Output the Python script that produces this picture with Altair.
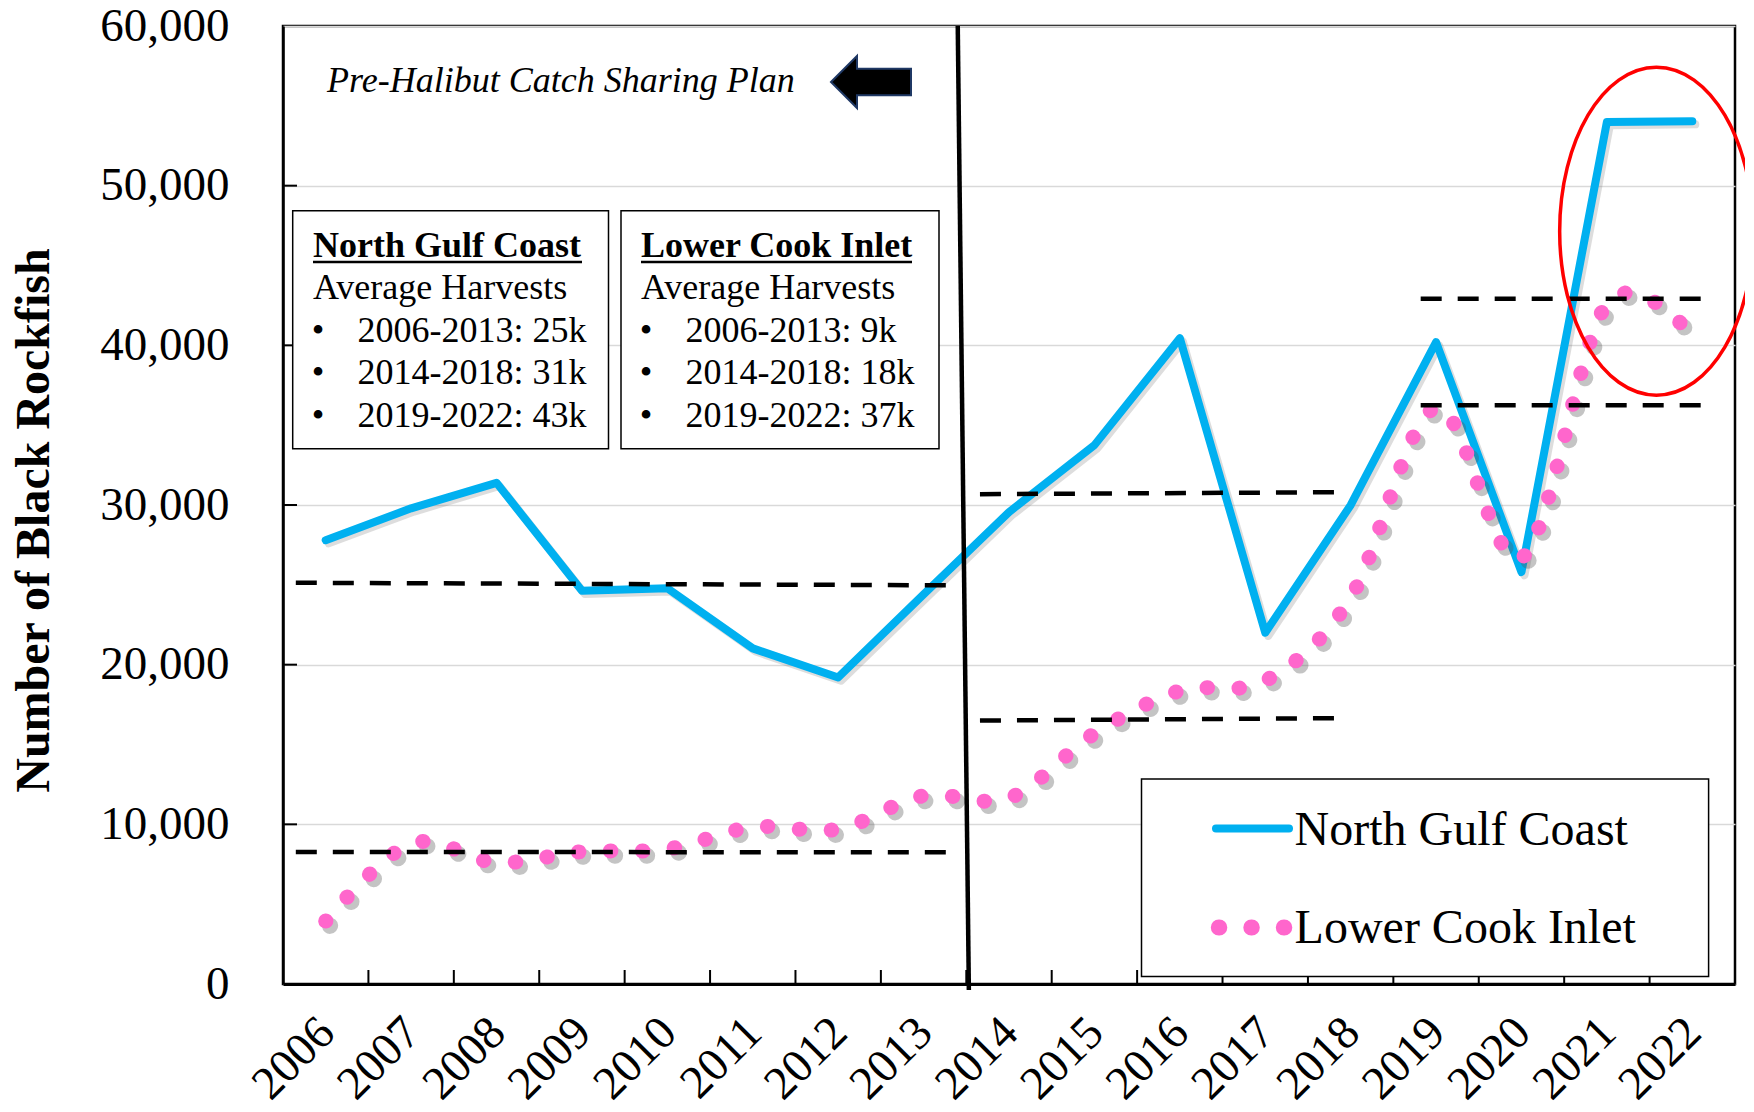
import altair as alt
import pandas as pd

# ---------------- data ----------------
years = list(range(2006, 2023))
north_gulf_coast = [27800, 29790, 31390, 24630, 24780, 21020, 19200, 24400,
                    29560, 33750, 40450, 22000, 29990, 40200, 25800, 53980, 54040]
lower_cook_inlet = [3940, 8800, 7600, 8290, 8450, 9830, 9700, 11790,
                    11650, 15690, 18370, 18990, 24200, 36100, 26680, 42600, 40600]
y_tick_values = [0, 10000, 20000, 30000, 40000, 50000, 60000]
category_bounds = [y + 0.5 for y in range(2006, 2022)]

# hand-drawn average lines (start/end in data units)
avg_x1 = [2005.65, 2005.65, 2013.66, 2013.66, 2018.82, 2018.82]
avg_x2 = [2013.31, 2013.31, 2017.87, 2017.87, 2022.14, 2022.14]
avg_y1 = [25130, 8270, 30680, 16500, 42910, 36250]
avg_y2 = [24970, 8250, 30800, 16650, 42910, 36250]

# 2013/2014 divider (slightly slanted)
div_x = [2013.40, 2013.53]
div_y = [60000, -380]

box1_title = "North Gulf Coast"
box2_title = "Lower Cook Inlet"
sub_title = "Average Harvests"
box1_items = ["2006-2013: 25k", "2014-2018: 31k", "2019-2022: 43k"]
box2_items = ["2006-2013: 9k", "2014-2018: 18k", "2019-2022: 37k"]
series_names = ["North Gulf Coast", "Lower Cook Inlet"]

# highlighted region (ellipse centre)
hl_x = [2021.58]
hl_y = [47150]

# ---------------- styling ----------------
FONT = "Liberation Serif"
BLUE = "#00B0F0"
PINK = "#FF66CC"
W, H = 1452, 958

X_SCALE = alt.Scale(domain=[2005.5, 2022.5], nice=False, zero=False)
Y_SCALE = alt.Scale(domain=[0, 60000], nice=False, zero=False)

x_axis = alt.Axis(values=years, format="d", title=None, grid=False, ticks=False, tickSize=0,
                  labelAngle=-45, labelAlign="right", labelBaseline="middle",
                  labelPadding=41, labelOffset=1, labelFont=FONT, labelFontSize=47,
                  labelColor="black", labelOverlap=False, labelFlush=False,
                  domain=True, domainColor="black", domainWidth=3)
y_axis = alt.Axis(values=y_tick_values, format=",d", title="Number of Black Rockfish",
                  grid=True, gridColor="#D9D9D9", gridWidth=1.5, ticks=False, tickSize=0,
                  labelPadding=54, labelFont=FONT, labelFontSize=47, labelColor="black",
                  labelOverlap=False, labelFlush=False, domain=True, domainColor="black",
                  domainWidth=2.5, titleFont=FONT, titleFontSize=48, titleFontWeight="bold",
                  titleColor="black", titleAngle=-90, titleAlign="center",
                  titleBaseline="alphabetic", titleX=-235, titleY=494)


def X(f):
    return alt.X(f, type="quantitative", scale=X_SCALE, axis=x_axis)


def Y(f):
    return alt.Y(f, type="quantitative", scale=Y_SCALE, axis=y_axis)


series = pd.DataFrame({"year": years, "ngc": north_gulf_coast, "lci": lower_cook_inlet})
avgs = pd.DataFrame({"x1": avg_x1, "x2": avg_x2, "y1": avg_y1, "y2": avg_y2})
divider = pd.DataFrame({"x1": [div_x[0]], "x2": [div_x[1]], "y1": [div_y[0]], "y2": [div_y[1]]})
bounds = pd.DataFrame({"b": category_bounds})
yt = pd.DataFrame({"v": y_tick_values[1:-1]})
hl = pd.DataFrame({"x": hl_x, "y": hl_y})

base = alt.Chart(series)

# inward tick marks
xticks = alt.Chart(bounds).mark_rule(color="black", strokeWidth=2).encode(
    x=X("b"), y=alt.value(H), y2=alt.value(H - 14))
yticks = alt.Chart(yt).mark_rule(color="black", strokeWidth=2).encode(
    y=Y("v"), x=alt.value(0), x2=alt.value(14))

# North Gulf Coast (solid) with faint shadow
ngc_shadow = base.transform_calculate(xs="datum.year + 0.035", ys="datum.ngc - 200").mark_line(
    color="#777777", opacity=0.25, strokeWidth=8, strokeJoin="round", strokeCap="round").encode(
    x=X("xs"), y=Y("ys"))
ngc_line = base.mark_line(color=BLUE, strokeWidth=8, strokeJoin="round", strokeCap="round").encode(
    x=X("year"), y=Y("ngc"))

# Lower Cook Inlet (smoothed round dots) with shadow
lci_shadow = base.transform_calculate(xs="datum.year + 0.05", ys="datum.lci - 300").mark_line(
    color="#555555", opacity=0.35, strokeWidth=16, strokeCap="round", strokeDash=[0.5, 31.5],
    interpolate="cardinal", tension=0).encode(x=X("xs"), y=Y("ys"))
lci_line = base.mark_line(color=PINK, strokeWidth=15, strokeCap="round", strokeDash=[0.5, 31.5],
                          interpolate="cardinal", tension=0).encode(x=X("year"), y=Y("lci"))

avg_lines = alt.Chart(avgs).mark_rule(color="black", strokeWidth=4.5, strokeDash=[21, 16]).encode(
    x=X("x1"), x2="x2", y=Y("y1"), y2="y2")
div_line = alt.Chart(divider).mark_rule(color="black", strokeWidth=4.5).encode(
    x=X("x1"), x2="x2", y=Y("y1"), y2="y2")

one = pd.DataFrame({"a": [1]})


def rect(x1, x2, y1, y2, sw=1.5):
    return alt.Chart(one).mark_rect(fill="white", stroke="black", strokeWidth=sw).encode(
        x=alt.value(x1), x2=alt.value(x2), y=alt.value(y1), y2=alt.value(y2))


def txt(s, x, y, size=36, weight="normal", style="normal", align="left"):
    return alt.Chart(one).mark_text(font=FONT, fontSize=size, fontWeight=weight, fontStyle=style,
                                    align=align, baseline="alphabetic", color="black").encode(
        x=alt.value(x), y=alt.value(y), text=alt.value(s))


def hline(x1, x2, y, color="black", sw=2.5, dash=None, cap="butt"):
    kw = dict(color=color, strokeWidth=sw, strokeCap=cap)
    if dash:
        kw["strokeDash"] = dash
    return alt.Chart(one).mark_rule(**kw).encode(
        x=alt.value(x1), x2=alt.value(x2), y=alt.value(y))


layers = [xticks, yticks, ngc_shadow, ngc_line, lci_shadow, lci_line, avg_lines, div_line]

# text boxes
line_gap = 42.7
for bx0, bx1, tx, head, items, ul in [(9.7, 325.5, 30, box1_title, box1_items, 269),
                                      (338, 656, 358, box2_title, box2_items, 271)]:
    layers.append(rect(bx0, bx1, 184.7, 422.7))
    layers.append(txt(head, tx, 230.7, weight="bold"))
    layers.append(hline(tx, tx + ul, 236, sw=2.5))
    layers.append(txt(sub_title, tx, 272.5))
    for i, it in enumerate(items):
        yy = 315.7 + i * line_gap
        layers.append(txt("\u2022", tx + 5, yy, align="center"))
        layers.append(txt(it, tx + 44.6, yy))

# top annotation
layers.append(txt("Pre-Halibut Catch Sharing Plan", 44, 66, style="italic"))
arrow_path = "M -1 0 L -0.35 -0.65 L -0.35 -0.33 L 1 -0.33 L 1 0.33 L -0.35 0.33 L -0.35 0.65 Z"
layers.append(alt.Chart(one).mark_point(shape=arrow_path, size=6400, filled=True, fill="black",
                                        stroke="#1F3864", strokeWidth=2, opacity=1).encode(
    x=alt.value(588), y=alt.value(56)))

# legend
layers.append(rect(858.5, 1425.6, 753, 950.5))
layers.append(hline(933, 1006, 802.4, color=BLUE, sw=8, cap="round"))
layers.append(hline(935.8, 1002, 901.5, color=PINK, sw=16, cap="round", dash=[0.5, 32]))
layers.append(txt(series_names[0], 1011.6, 818.7, size=48))
layers.append(txt(series_names[1], 1011.6, 917, size=48))

# red ellipse around 2021-2022
a, k = 0.59, 0.5523
ak = round(a * k, 4)
ell = (f"M {a} 0 C {a} {k} {ak} 1 0 1 C {-ak} 1 {-a} {k} {-a} 0 "
       f"C {-a} {-k} {-ak} -1 0 -1 C {ak} -1 {a} {-k} {a} 0 Z")
layers.append(alt.Chart(hl).mark_point(shape=ell, size=328 * 328, filled=False, stroke="#FF0000",
                                       strokeWidth=3.5, opacity=1).encode(x=X("x"), y=Y("y")))

chart = alt.layer(*layers).properties(
    width=W, height=H,
    padding={"left": 275, "top": 18, "right": 10, "bottom": 120},
    autosize=alt.AutoSizeParams(type="none"),
    background="white",
).configure_view(stroke="black", strokeWidth=2.5)

chart.save("out.html", embed_options={"renderer": "svg", "actions": False})
